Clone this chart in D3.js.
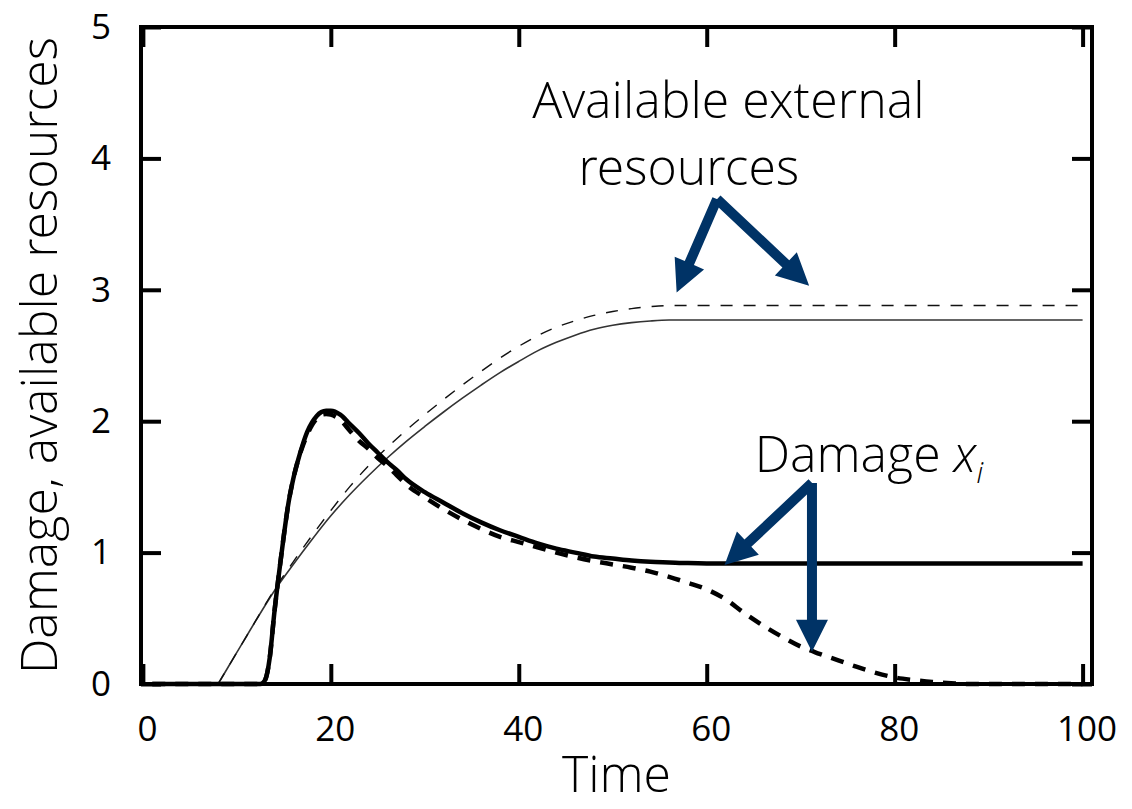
<!DOCTYPE html>
<html>
<head>
<meta charset="utf-8">
<script src="https://cdn.jsdelivr.net/npm/d3@7"></script>
<style>
  html, body { margin: 0; padding: 0; background: #fff; }
  svg { display: block; font-family: "Open Sans", "Noto Sans", sans-serif; }
  .light { font-family: "Open Sans Light", "Noto Sans Light", "Noto Sans", "Open Sans", sans-serif; font-weight: 300; }
</style>
</head>
<body>
<svg id="chart" width="1132" height="809"></svg>
<script>
// Time grid for each series
const resT = [8, 10, 12, 14, 16, 18, 20, 22, 24, 26, 28, 30, 32, 34, 36, 38, 40, 42, 44, 46, 48, 50, 52, 54, 56, 58, 60, 100];
// Available external resources (solid, thin)
const resSolid = [0, 0.24, 0.48, 0.71, 0.91, 1.10, 1.28, 1.44, 1.585, 1.72, 1.845, 1.96, 2.07, 2.175, 2.275, 2.37, 2.455, 2.535, 2.6, 2.655, 2.7, 2.73, 2.75, 2.763, 2.77, 2.77, 2.77, 2.77];
// Available external resources (dashed, thin)
const resDashed = [0, 0.24, 0.48, 0.72, 0.93, 1.13, 1.32, 1.5, 1.66, 1.8, 1.93, 2.05, 2.165, 2.275, 2.38, 2.48, 2.57, 2.65, 2.715, 2.765, 2.805, 2.835, 2.857, 2.872, 2.88, 2.88, 2.88, 2.88];

const dmgT = [1, 12.5, 13, 13.5, 14, 14.5, 15, 15.5, 16, 16.5, 17, 17.5, 18, 18.5, 19, 19.5, 20, 21, 22, 23, 24, 25, 26, 27, 28, 30, 32, 34, 36, 38, 40, 42, 44, 46, 48, 50, 52, 54, 56, 58, 60, 62, 64, 66, 68, 70, 72, 74, 76, 78, 80, 82, 84, 86, 88, 100];
// Damage x_i (solid, thick)
const dmgSolid = [0, 0, 0.03, 0.2, 0.55, 0.85, 1.13, 1.38, 1.56, 1.7, 1.82, 1.92, 1.99, 2.04, 2.07, 2.08, 2.08, 2.05, 1.98, 1.91, 1.83, 1.76, 1.69, 1.63, 1.56, 1.46, 1.38, 1.3, 1.23, 1.17, 1.12, 1.07, 1.03, 1.0, 0.97, 0.955, 0.94, 0.93, 0.925, 0.92, 0.918, 0.918, 0.918, 0.918, 0.918, 0.918, 0.918, 0.918, 0.918, 0.918, 0.918, 0.918, 0.918, 0.918, 0.918, 0.918];
// Damage x_i (dashed, thick)
const dmgDashed = [0, 0, 0.03, 0.2, 0.55, 0.85, 1.13, 1.38, 1.56, 1.7, 1.81, 1.9, 1.97, 2.02, 2.05, 2.055, 2.05, 2.01, 1.93, 1.85, 1.79, 1.72, 1.66, 1.59, 1.52, 1.42, 1.33, 1.25, 1.18, 1.12, 1.08, 1.04, 1.0, 0.965, 0.935, 0.91, 0.885, 0.855, 0.815, 0.77, 0.72, 0.645, 0.54, 0.445, 0.36, 0.285, 0.23, 0.18, 0.13, 0.085, 0.05, 0.03, 0.015, 0.006, 0, 0];

const xTicks = [0, 20, 40, 60, 80, 100];
const yTicks = [0, 1, 2, 3, 4, 5];

const xTitle = "Time";
const yTitle = "Damage, available resources";
const resLabel = ["Available external", "resources"];
const dmgLabel = "Damage";

// Annotation arrows in data units: [fromX, fromY, toX, toY]
const resArrows = [[61.1, 3.69, 56.8, 2.98], [61.1, 3.69, 70.9, 3.03]];
const dmgArrows = [[71.2, 1.53, 61.9, 0.905], [71.2, 1.53, 71.2, 0.245]];

const svg = d3.select("#chart");
const L = 141, R = 1092, T = 27, B = 684;

const x = d3.scaleLinear().domain([-0.2, 101]).range([L, R]);
const y = d3.scaleLinear().domain([0, 5]).range([B, T]);

const navy = "#003366";

// Plot frame
svg.append("rect")
  .attr("x", L).attr("y", T).attr("width", R - L).attr("height", B - T)
  .attr("fill", "none").attr("stroke", "#000").attr("stroke-width", 4);

// Axes with inward ticks on all four sides
function styleAxis(g) {
  g.select(".domain").remove();
  g.selectAll(".tick line").attr("stroke", "#000").attr("stroke-width", 4);
  g.selectAll(".tick text").attr("fill", "#000").attr("font-size", 35).attr("font-family", "'Open Sans', sans-serif");
}
svg.append("g").attr("transform", `translate(0,${B})`)
  .call(d3.axisBottom(x).tickValues(xTicks).tickFormat(d3.format("d")).tickSizeInner(-20).tickSizeOuter(0).tickPadding(32))
  .call(styleAxis)
  .call(g => g.selectAll(".tick text").attr("dx", 4));
svg.append("g").attr("transform", `translate(0,${T})`)
  .call(d3.axisTop(x).tickValues(xTicks).tickSizeInner(-20).tickSizeOuter(0).tickFormat(""))
  .call(styleAxis);
svg.append("g").attr("transform", `translate(${L},0)`)
  .call(d3.axisLeft(y).tickValues(yTicks).tickFormat(d3.format("d")).tickSizeInner(-20).tickSizeOuter(0).tickPadding(30))
  .call(styleAxis);
svg.append("g").attr("transform", `translate(${R},0)`)
  .call(d3.axisRight(y).tickValues(yTicks).tickSizeInner(-20).tickSizeOuter(0).tickFormat(""))
  .call(styleAxis);

// Curves
const line = d3.line().x(d => x(d[0])).y(d => y(d[1])).curve(d3.curveMonotoneX);
const zip = (ts, vs) => ts.map((t, i) => [t, vs[i]]);

svg.append("path").datum(zip(resT, resSolid)).attr("d", line)
  .attr("fill", "none").attr("stroke", "#333").attr("stroke-width", 1.6);
svg.append("path").datum(zip(resT, resDashed)).attr("d", line)
  .attr("fill", "none").attr("stroke", "#111").attr("stroke-width", 1.4)
  .attr("stroke-dasharray", "12,11");
svg.append("path").datum(zip(dmgT, dmgDashed)).attr("d", line)
  .attr("fill", "none").attr("stroke", "#000").attr("stroke-width", 4.5)
  .attr("stroke-dasharray", "13,10");
svg.append("path").datum(zip(dmgT, dmgSolid)).attr("d", line)
  .attr("fill", "none").attr("stroke", "#000").attr("stroke-width", 4.5);

// Block arrows
function arrowPath(a) {
  const x1 = x(a[0]), y1 = y(a[1]), x2 = x(a[2]), y2 = y(a[3]);
  const dx = x2 - x1, dy = y2 - y1, len = Math.hypot(dx, dy);
  const ux = dx / len, uy = dy / len, nx = -uy, ny = ux;
  const w = 5, hl = 32, hw = 16;
  const bx = x2 - ux * hl, by = y2 - uy * hl;
  const pts = [
    [x1 + nx * w, y1 + ny * w], [bx + nx * w, by + ny * w], [bx + nx * hw, by + ny * hw],
    [x2, y2],
    [bx - nx * hw, by - ny * hw], [bx - nx * w, by - ny * w], [x1 - nx * w, y1 - ny * w]
  ];
  return "M" + pts.map(p => p.join(",")).join("L") + "Z";
}
svg.append("g").selectAll("path").data(resArrows.concat(dmgArrows)).join("path")
  .attr("d", arrowPath).attr("fill", navy);

// Annotation text
const txt = svg.append("g").attr("class", "light").attr("fill", "#000").attr("font-size", 50);
const rt = txt.append("text").attr("text-anchor", "middle").attr("font-size", 50);
rt.append("tspan").attr("x", x(62.3)).attr("y", y(4.31)).text(resLabel[0]);
rt.append("tspan").attr("x", x(58.1)).attr("y", y(3.8)).text(resLabel[1]);
const dt = txt.append("text").attr("x", x(65.1)).attr("y", y(1.61));
dt.append("tspan").text(dmgLabel + " ");
dt.append("tspan").attr("font-style", "italic").text("x");
dt.append("tspan").attr("font-style", "italic").attr("font-size", 30).attr("dy", 11).text("i");

// Axis titles
txt.append("text").attr("x", (L + R) / 2).attr("y", 792).attr("text-anchor", "middle").text(xTitle);
txt.append("text").attr("transform", `translate(57,${(T + B) / 2}) rotate(-90)`)
  .attr("text-anchor", "middle").text(yTitle);
</script>
</body>
</html>
